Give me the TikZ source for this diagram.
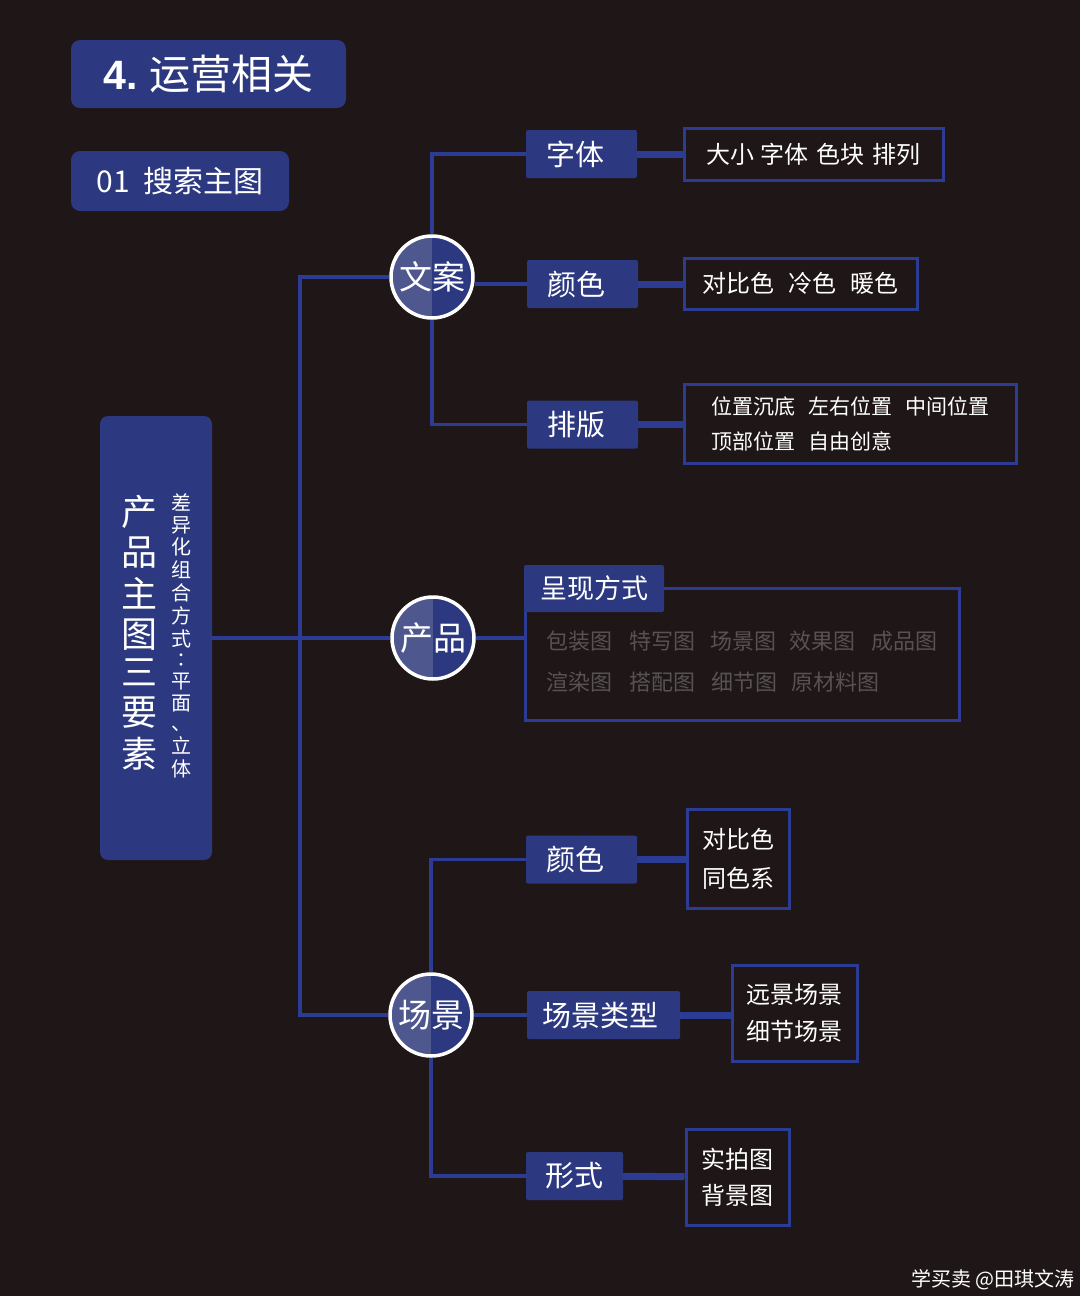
\documentclass[tikz,border=0pt]{standalone}
\usepackage{fontspec}
\setmainfont{Noto Sans CJK SC}
\newfontfamily\latinbf{Liberation Sans}
\usepackage{tikz}
\usetikzlibrary{positioning,calc}
\usepackage{xcolor}
\definecolor{bgdark}{RGB}{30,22,23}
\definecolor{navy}{RGB}{44,57,128}
\definecolor{navylight}{RGB}{78,88,142}
\definecolor{edgeblue}{RGB}{44,60,148}
\definecolor{greytxt}{RGB}{88,82,82}
\newcommand\fsz[2]{\fontsize{#1}{#2}\selectfont}

\begin{document}
\begin{tikzpicture}[x=1pt,y=-1pt]
\tikzstyle{head}=[fill=navy,rounded corners=9pt,text=white,inner sep=0pt]
\tikzstyle{tab}=[fill=navy,rounded corners=2pt,text=white,inner sep=0pt,minimum height=48pt,font=\fsz{29}{29}]
\tikzstyle{leaf}=[draw=edgeblue,line width=3pt,text=white,inner sep=0pt,align=left]
\tikzstyle{hub}=[circle,draw=white,line width=3.5pt,fill=navy,minimum size=82pt,inner sep=0pt,text=white,font=\fsz{33}{33},
  path picture={\fill[navylight] (path picture bounding box.north west) rectangle (path picture bounding box.south);}]
\tikzstyle{ln}=[draw=edgeblue,line width=3.5pt]
\tikzstyle{thk}=[draw=edgeblue,line width=7pt]
\fill[bgdark] (0,0) rectangle (1080,1296);
\useasboundingbox (0,0) rectangle (1080,1296);
% titles
\node[head,minimum width=275pt,minimum height=68pt] (title) at (208.5,74) {\fsz{41}{41}{\latinbf\bfseries 4.}\hspace{12pt}运营相关};
\node[head,minimum width=218pt,minimum height=60pt] (sub) at (180,181) {\fsz{30}{30}01\hspace{14pt}搜索主图};
\node[head,rounded corners=8pt,minimum width=112pt,minimum height=444pt] (main) at (156,638)
  {\fsz{36}{38}\begin{tabular}{@{}c@{}}产\\品\\主\\图\\三\\要\\素\end{tabular}\hspace{14pt}%
   \fsz{20}{20.4}\begin{tabular}{@{}c@{}}差\\异\\化\\组\\合\\方\\式\\∶\\平\\面\\、\\立\\体\end{tabular}};
% hubs
\node[hub] (wenan) at (432,277) {文案};
\node[hub] (chanpin) at (433,638) {产品};
\node[hub] (changjing) at (431,1015) {场景};
% copy branch
\node[tab,minimum width=111pt] (ziti) at (581.5,154) {字体\kern12pt};
\node[tab,minimum width=111pt] (yanse) at (582.5,284) {颜色\kern12pt};
\node[tab,minimum width=111pt] (paiban) at (582.5,424.5) {排版\kern12pt};
\node[leaf,minimum width=259pt,minimum height=52pt,font=\fsz{24}{24}] (daxiao) at (813.5,154) {大小\hspace{6pt}字体\hspace{8pt}色块\hspace{8pt}排列};
\node[leaf,minimum width=233pt,minimum height=51pt,font=\fsz{24}{24}] (duibi) at (800.5,283.5) {对比色\hspace{14pt}冷色\hspace{14pt}暖色};
\node[leaf,minimum width=332pt,minimum height=79pt,font=\fsz{21}{35}] (weizhi) at (850,423.5)
  {位置沉底\hspace{14pt}左右位置\hspace{12pt}中间位置\\顶部位置\hspace{14pt}自由创意};
% product branch
\node[leaf,minimum width=434pt,minimum height=132pt] (pbox) at (742,654) {};
\node[fill=navy,rounded corners=2pt,text=white,inner sep=0pt,minimum width=140pt,minimum height=47pt,font=\fsz{27}{27}] (cxfs) at (594,588.5) {呈现方式};
\node[text=greytxt,anchor=west,inner sep=0pt,align=left,font=\fsz{22}{41}] (ptext) at (546,662)
  {包装图\hspace{17pt}特写图\hspace{15pt}场景图\hspace{13pt}效果图\hspace{16pt}成品图\\渲染图\hspace{17pt}搭配图\hspace{16pt}细节图\hspace{14pt}原材料图};
% scene branch
\node[tab,minimum width=111pt] (yanse2) at (581.5,859.5) {颜色\kern12pt};
\node[tab,minimum width=153pt] (cjlx) at (603.5,1015) {场景类型\kern6pt};
\node[tab,minimum width=97pt] (xingshi) at (574.5,1176) {形式};
\node[leaf,minimum width=102pt,minimum height=99pt,font=\fsz{24}{39}] (dbs) at (738,858.5) {对比色\\同色系};
\node[leaf,minimum width=125pt,minimum height=96pt,font=\fsz{24}{37}] (yjcj) at (794.5,1013) {远景场景\\细节场景};
\node[leaf,minimum width=103pt,minimum height=96pt,font=\fsz{24}{36}] (spt) at (737.5,1177) {实拍图\\背景图};
\node[anchor=east,text=white,inner sep=0pt,font=\fsz{20}{20}] (mark) at (1075,1280) {学买卖 @田琪文涛};
% trunk
\coordinate (jt) at (300,277);
\coordinate (jb) at (300,1015);
\draw[ln] (wenan) -- (jt) -- (jb) -- (changjing);
\draw[ln] (main) -- (chanpin);
\draw[ln] (chanpin) -- (pbox.west |- chanpin);
\draw[ln] (ziti) -| (wenan);
\draw[ln] (paiban) -| (wenan);
\draw[ln] (yanse.west) -- (yanse.west -| wenan.east);
\draw[ln] (yanse2) -| (changjing);
\draw[ln] (xingshi) -| (changjing);
\draw[ln] (cjlx) -- (changjing);
\draw[thk] (ziti) -- (daxiao);
\draw[thk] (yanse) -- (yanse -| duibi.west);
\draw[thk] (paiban) -- (paiban -| weizhi.west);
\draw[thk] (yanse2) -- (yanse2 -| dbs.west);
\draw[thk] (cjlx) -- (cjlx -| yjcj.west);
\draw[thk] (xingshi) -- (spt);
\end{tikzpicture}
\end{document}
